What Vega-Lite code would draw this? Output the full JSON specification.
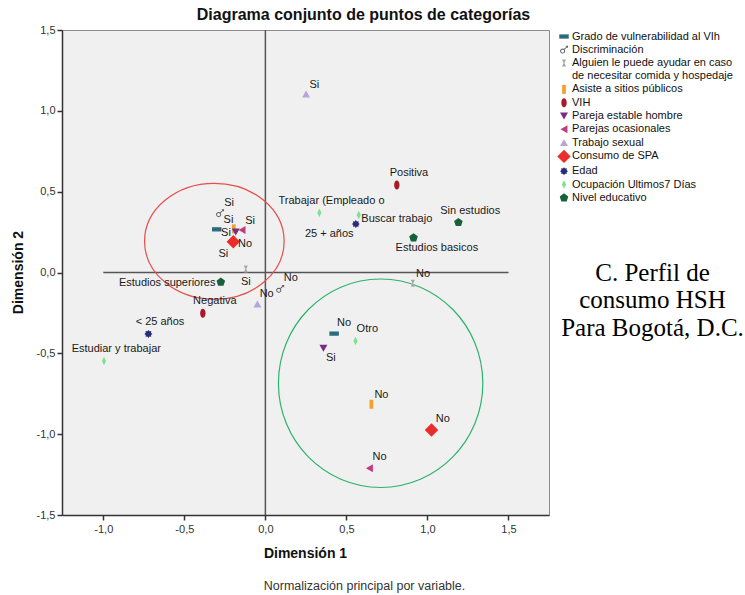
{
  "$schema": "https://vega.github.io/schema/vega-lite/v6.json",
  "width": 487,
  "height": 485,
  "autosize": {"type": "none"},
  "padding": {"left": 62, "top": 30, "right": 196, "bottom": 80},
  "background": "white",
  "title": {"text": "Diagrama conjunto de puntos de categorías", "font": "Liberation Sans", "fontSize": 16, "fontWeight": "bold", "color": "#111111", "anchor": "middle", "frame": "group", "dx": 58, "offset": 1},
  "config": {
    "view": {"fill": "#F0F0F0", "stroke": "#8C8C8C", "strokeWidth": 1},
    "axis": {"grid": false},
    "font": "Liberation Sans"
  },
  "datasets": {
    "lines": [
      {"x": -1.0, "x2": 1.5, "y": 0, "y2": 0},
      {"x": 0, "x2": 0, "y": -1.5, "y2": 1.5}
    ],
    "ell": [
      {"x": -0.315, "y": 0.193, "c": "red"},
      {"x": 0.711, "y": -0.685, "c": "green"}
    ],
    "pts": [
      {"var": "Grado de vulnerabilidad al VIh", "cat": "Si", "x": -0.30, "y": 0.267},
      {"var": "Grado de vulnerabilidad al VIh", "cat": "No", "x": 0.424, "y": -0.378},
      {"var": "Discriminación", "cat": "Si", "x": -0.28, "y": 0.366},
      {"var": "Discriminación", "cat": "No", "x": 0.091, "y": -0.102},
      {"var": "Alguien le puede ayudar en caso de necesitar comida y hospedaje", "cat": "Si", "x": -0.121, "y": 0.022},
      {"var": "Alguien le puede ayudar en caso de necesitar comida y hospedaje", "cat": "No", "x": 0.91, "y": -0.067},
      {"var": "Asiste a sitios públicos", "cat": "Si", "x": -0.195, "y": 0.27},
      {"var": "Asiste a sitios públicos", "cat": "No", "x": 0.654, "y": -0.815},
      {"var": "VIH", "cat": "Positiva", "x": 0.811, "y": 0.541},
      {"var": "VIH", "cat": "Negativa", "x": -0.386, "y": -0.252},
      {"var": "Pareja estable hombre", "cat": "No", "x": -0.183, "y": 0.25},
      {"var": "Pareja estable hombre", "cat": "Si", "x": 0.358, "y": -0.469},
      {"var": "Parejas ocasionales", "cat": "Si", "x": -0.144, "y": 0.263},
      {"var": "Parejas ocasionales", "cat": "No", "x": 0.642, "y": -1.211},
      {"var": "Trabajo sexual", "cat": "Si", "x": 0.251, "y": 1.104},
      {"var": "Trabajo sexual", "cat": "No", "x": -0.049, "y": -0.195},
      {"var": "Edad", "cat": "< 25 años", "x": -0.722, "y": -0.38},
      {"var": "Edad", "cat": "25 + años", "x": 0.558, "y": 0.30},
      {"var": "Ocupación Ultimos7 Días", "cat": "Estudiar y trabajar", "x": -0.996, "y": -0.547},
      {"var": "Ocupación Ultimos7 Días", "cat": "Trabajar (Empleado o", "x": 0.333, "y": 0.37},
      {"var": "Ocupación Ultimos7 Días", "cat": "Buscar trabajo", "x": 0.576, "y": 0.356},
      {"var": "Ocupación Ultimos7 Días", "cat": "Otro", "x": 0.556, "y": -0.424},
      {"var": "Nivel educativo", "cat": "Estudios superiores", "x": -0.275, "y": -0.059},
      {"var": "Nivel educativo", "cat": "Sin estudios", "x": 1.191, "y": 0.31},
      {"var": "Nivel educativo", "cat": "Estudios basicos", "x": 0.914, "y": 0.215},
      {"var": "Consumo de SPA", "cat": "Si", "x": -0.198, "y": 0.19},
      {"var": "Consumo de SPA", "cat": "No", "x": 1.025, "y": -0.974}
    ],
    "labels": [
      {"label": "Si", "x": -0.224, "y": 0.428},
      {"label": "Si", "x": -0.228, "y": 0.325},
      {"label": "Si", "x": -0.243, "y": 0.242},
      {"label": "Si", "x": -0.094, "y": 0.318},
      {"label": "No", "x": -0.125, "y": 0.174},
      {"label": "Si", "x": -0.259, "y": 0.112},
      {"label": "Si", "x": -0.121, "y": -0.057},
      {"label": "Estudios superiores", "x": -0.606, "y": -0.065},
      {"label": "No", "x": 0.157, "y": -0.032},
      {"label": "No", "x": 0.008, "y": -0.133},
      {"label": "Negativa", "x": -0.312, "y": -0.178},
      {"label": "< 25 años", "x": -0.65, "y": -0.304},
      {"label": "Estudiar y trabajar", "x": -0.92, "y": -0.473},
      {"label": "Positiva", "x": 0.886, "y": 0.613},
      {"label": "Trabajar (Empleado o", "x": 0.408, "y": 0.444},
      {"label": "Buscar trabajo", "x": 0.811, "y": 0.331},
      {"label": "25 + años", "x": 0.394, "y": 0.238},
      {"label": "Sin estudios", "x": 1.264, "y": 0.382},
      {"label": "Estudios basicos", "x": 1.058, "y": 0.15},
      {"label": "No", "x": 0.973, "y": -0.009},
      {"label": "Si", "x": 0.302, "y": 1.16},
      {"label": "No", "x": 0.486, "y": -0.314},
      {"label": "Otro", "x": 0.629, "y": -0.349},
      {"label": "Si", "x": 0.404, "y": -0.531},
      {"label": "No", "x": 0.716, "y": -0.758},
      {"label": "No", "x": 1.095, "y": -0.906},
      {"label": "No", "x": 0.704, "y": -1.143}
    ]
  },
  "layer": [
    {
      "encoding": {
        "x": {"field": "x", "type": "quantitative", "scale": {"domain": [-1.255, 1.75], "nice": false, "zero": false},
          "axis": {"orient": "bottom", "domain": false, "ticks": false, "labels": false, "grid": false,
            "title": "Normalización principal por variable.", "titleFont": "Liberation Sans", "titleFontSize": 12.5, "titleFontWeight": "normal", "titleColor": "#333333",
            "titleX": 302, "titleY": 70, "titleAlign": "center", "titleBaseline": "middle"}},
        "y": {"field": "y", "type": "quantitative", "scale": {"domain": [-1.5, 1.5], "nice": false, "zero": false},
          "axis": {"orient": "right", "domain": false, "ticks": false, "labels": false, "grid": false,
            "title": ["C. Perfil de", "consumo HSH", "Para Bogotá, D.C."], "titleFont": "Liberation Serif", "titleFontSize": 25, "titleFontWeight": "normal", "titleColor": "#000000",
            "titleAngle": 0, "titleX": 103, "titleY": 242, "titleAlign": "center", "titleBaseline": "middle", "titleLineHeight": 27.5}}
      },
      "layer": [
        {"data": {"name": "lines"}, "mark": {"type": "rule", "color": "#555555", "strokeWidth": 1.5},
          "encoding": {"x2": {"field": "x2"}, "y2": {"field": "y2"}}},
        {"data": {"name": "ell"}, "transform": [{"filter": "datum.c == 'red'"}],
          "mark": {"type": "point", "filled": false, "opacity": 1, "color": "#E5504A", "strokeWidth": 1.2, "size": 19488,
            "shape": "M -1 0 A 1 0.831 0 1 0 1 0 A 1 0.831 0 1 0 -1 0 Z"}},
        {"data": {"name": "ell"}, "transform": [{"filter": "datum.c == 'green'"}],
          "mark": {"type": "point", "filled": false, "opacity": 1, "color": "#2DB36B", "strokeWidth": 1.2, "size": 41779,
            "shape": "M -1 0 A 1 1.02 0 1 0 1 0 A 1 1.02 0 1 0 -1 0 Z"}}
      ]
    },
    {
      "encoding": {
        "x": {"field": "x", "type": "quantitative", "scale": {"domain": [-1.255, 1.75], "nice": false, "zero": false},
          "axis": {"orient": "bottom", "values": [-1, -0.5, 0, 0.5, 1, 1.5],
            "labelExpr": "(datum.value < 0 ? '-' : '') + replace(format(abs(datum.value), '.1f'), '.', ',')",
            "labelFont": "Liberation Sans", "labelFontSize": 11, "labelColor": "#333333", "labelPadding": 3,
            "tickSize": 5, "tickColor": "#333333", "tickWidth": 1.5, "domainColor": "#333333", "domainWidth": 1.5,
            "title": "Dimensión 1", "titleFont": "Liberation Sans", "titleFontSize": 14, "titleFontWeight": "bold", "titleColor": "#111111",
            "titleX": 243, "titleY": 38, "titleAlign": "center", "titleBaseline": "middle"}},
        "y": {"field": "y", "type": "quantitative", "scale": {"domain": [-1.5, 1.5], "nice": false, "zero": false},
          "axis": {"orient": "left", "values": [-1.5, -1, -0.5, 0, 0.5, 1, 1.5],
            "labelExpr": "(datum.value < 0 ? '-' : '') + replace(format(abs(datum.value), '.1f'), '.', ',')",
            "labelFont": "Liberation Sans", "labelFontSize": 11, "labelColor": "#333333", "labelPadding": 2,
            "tickSize": 5, "tickColor": "#333333", "tickWidth": 1.5, "domainColor": "#333333", "domainWidth": 1.5,
            "title": "Dimensión 2", "titleFont": "Liberation Sans", "titleFontSize": 14, "titleFontWeight": "bold", "titleColor": "#111111",
            "titleX": -44, "titleY": 242, "titleAlign": "center", "titleBaseline": "middle", "titleAngle": -90}}
      },
      "layer": [
        {"data": {"name": "pts"},
          "mark": {"type": "point", "filled": true, "opacity": 1, "strokeWidth": 0},
          "encoding": {
            "color": {"field": "var", "type": "nominal",
              "scale": {"domain": ["Grado de vulnerabilidad al VIh", "Discriminación", "Alguien le puede ayudar en caso de necesitar comida y hospedaje", "Asiste a sitios públicos", "VIH", "Pareja estable hombre", "Parejas ocasionales", "Trabajo sexual", "Consumo de SPA", "Edad", "Ocupación Ultimos7 Días", "Nivel educativo"],
                "range": ["#2A6B7E", "#5A5A5A", "#A8A8A8", "#F5A032", "#A8192A", "#7B2C83", "#C23A82", "#B9A3D8", "#EC2B2B", "#272C7C", "#7DE38C", "#17603A"]},
              "legend": {"orient": "none", "legendX": 495, "legendY": 1, "title": null, "padding": 0,
                "labelFont": "Liberation Sans", "labelFontSize": 11, "labelColor": "#111111", "labelLimit": 300, "labelOffset": 1,
                "rowPadding": 1.3, "symbolStrokeWidth": 0, "symbolOpacity": 1,
                "labelExpr": "datum.label == 'Alguien le puede ayudar en caso de necesitar comida y hospedaje' ? ['Alguien le puede ayudar en caso', 'de necesitar comida y hospedaje'] : datum.label"}},
            "shape": {"field": "var", "type": "nominal",
              "scale": {"domain": ["Grado de vulnerabilidad al VIh", "Discriminación", "Alguien le puede ayudar en caso de necesitar comida y hospedaje", "Asiste a sitios públicos", "VIH", "Pareja estable hombre", "Parejas ocasionales", "Trabajo sexual", "Consumo de SPA", "Edad", "Ocupación Ultimos7 Días", "Nivel educativo"],
                "range": [
                  "M -1 -0.45 L 1 -0.45 L 1 0.45 L -1 0.45 Z",
                  "M -0.92 0.3 A 0.6 0.6 0 1 0 0.28 0.3 A 0.6 0.6 0 1 0 -0.92 0.3 Z M -0.7 0.3 A 0.38 0.38 0 1 1 0.06 0.3 A 0.38 0.38 0 1 1 -0.7 0.3 Z M -0.02 -0.17 L 0.55 -0.74 L 0.7 -0.59 L 0.13 -0.02 Z M 0.35 -0.95 L 0.95 -0.95 L 0.95 -0.35 Z",
                  "M -0.6 -1 L 0.6 -1 L 0.12 0 L 0.6 1 L -0.6 1 L -0.12 0 Z",
                  "M -0.42 -1 L 0.42 -1 L 0.42 1 L -0.42 1 Z",
                  "M 0 -1 A 0.6 1 0 1 0 0 1 A 0.6 1 0 1 0 0 -1 Z",
                  "triangle-down",
                  "triangle-left",
                  "triangle-up",
                  "diamond",
                  "M 1 0 L 0.65 0.27 L 0.71 0.71 L 0.27 0.65 L 0 1 L -0.27 0.65 L -0.71 0.71 L -0.65 0.27 L -1 0 L -0.65 -0.27 L -0.71 -0.71 L -0.27 -0.65 L 0 -1 L 0.27 -0.65 L 0.71 -0.71 L 0.65 -0.27 Z",
                  "M 0 -1 L 0.5 0 L 0 1 L -0.5 0 Z",
                  "M 0 -1 L 0.95 -0.31 L 0.59 0.81 L -0.59 0.81 L -0.95 -0.31 Z"
                ]}},
            "size": {"field": "var", "type": "nominal",
              "scale": {"type": "ordinal", "domain": ["Grado de vulnerabilidad al VIh", "Discriminación", "Alguien le puede ayudar en caso de necesitar comida y hospedaje", "Asiste a sitios públicos", "VIH", "Pareja estable hombre", "Parejas ocasionales", "Trabajo sexual", "Consumo de SPA", "Edad", "Ocupación Ultimos7 Días", "Nivel educativo"],
                "range": [90, 72, 49, 81, 81, 64, 64, 64, 180, 64, 72, 81]}}
          }},
        {"data": {"name": "labels"},
          "mark": {"type": "text", "font": "Liberation Sans", "fontSize": 11, "color": "#1A1A1A", "align": "center", "baseline": "middle"},
          "encoding": {"text": {"field": "label"}}}
      ]
    }
  ],
  "resolve": {"axis": {"x": "independent", "y": "independent"}}
}
